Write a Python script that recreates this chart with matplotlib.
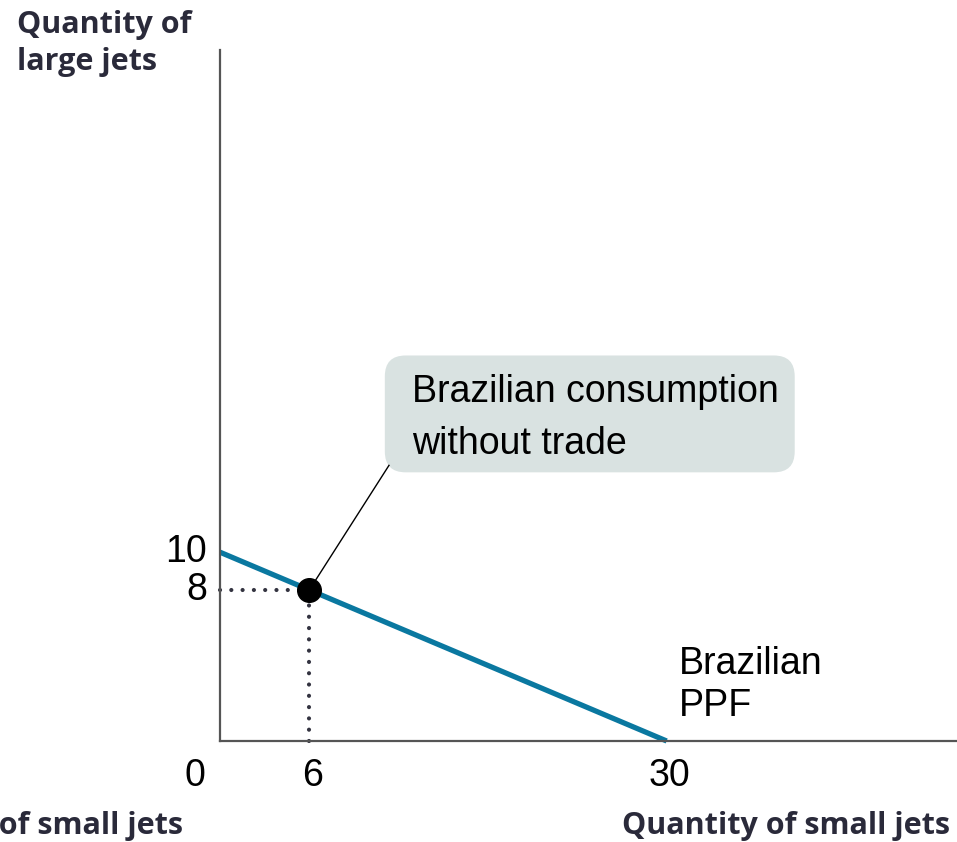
import matplotlib.pyplot as plt
from matplotlib.patches import FancyBboxPatch

# data
ppf_x = [0, 30]
ppf_y = [10, 0]
cons_x = 6
cons_y = 8
x_ticks = [6, 30]
y_ticks = [10, 8]

W, H = 957, 842
fig = plt.figure(figsize=(W / 100, H / 100), dpi=100)
ax = fig.add_axes([220 / W, 101 / H, (W - 220) / W, 691 / H])
ax.set_xlim(0, 49.5)
ax.set_ylim(0, 36.6)

for s in ['top', 'right']:
    ax.spines[s].set_visible(False)
for s in ['left', 'bottom']:
    ax.spines[s].set_color('#555555')
    ax.spines[s].set_linewidth(1.6)
ax.set_xticks([])
ax.set_yticks([])

dot = dict(color='#333340', lw=3, linestyle=(0, (0.01, 2.7)), dash_capstyle='round', clip_on=False)
ax.plot([0, cons_x], [cons_y, cons_y], **dot)
ax.plot([cons_x, cons_x], [0, cons_y], **dot)

ax.plot(ppf_x, ppf_y, color='#0a78a0', lw=3.8, solid_capstyle='butt', clip_on=False)
ax.plot([cons_x], [cons_y], 'o', color='black', markersize=17, zorder=5)

num = dict(family='Liberation Sans', fontsize=27, color='black')
for v in y_ticks:
    ax.text(-0.85, v, str(v), ha='right', va='center', **num)
for v in x_ticks:
    ax.text(v + 0.2, -0.9, str(v), ha='center', va='top', **num)
ax.text(-1.7, -0.9, '0', ha='center', va='top', **num)

ax.text(30.8, 4.7 - 1.75, 'Brazilian\nPPF', ha='left', va='center', linespacing=1.22, **num)

# callout box
box = FancyBboxPatch((11.07, 14.23), 38.6 - 11.07, 20.42 - 14.23,
                     boxstyle='round,pad=0,rounding_size=1.4', mutation_aspect=14.9 / 18.9,
                     fc='#d9e2e1', ec='none', zorder=3)
ax.add_patch(box)
ax.plot([cons_x, 11.35], [cons_y, 14.6], color='black', lw=1, zorder=4)
ax.text(12.9, 17.1, 'Brazilian consumption\nwithout trade', ha='left', va='center',
        linespacing=1.55, zorder=4, **num)

lab = dict(family='Open Sans', fontweight='bold', fontsize=22, color='#2a2a3a')
fig.text(17 / W, 1 - 10 / H, 'Quantity of\nlarge jets', ha='left', va='top', linespacing=1.32, **lab)
fig.text(950 / W, 1 - 826 / H, 'Quantity of small jets', ha='right', va='center', **lab)
fig.text(183 / W, 1 - 826 / H, 'Quantity of small jets', ha='right', va='center', **lab)

fig.savefig('out.png', dpi=100)
